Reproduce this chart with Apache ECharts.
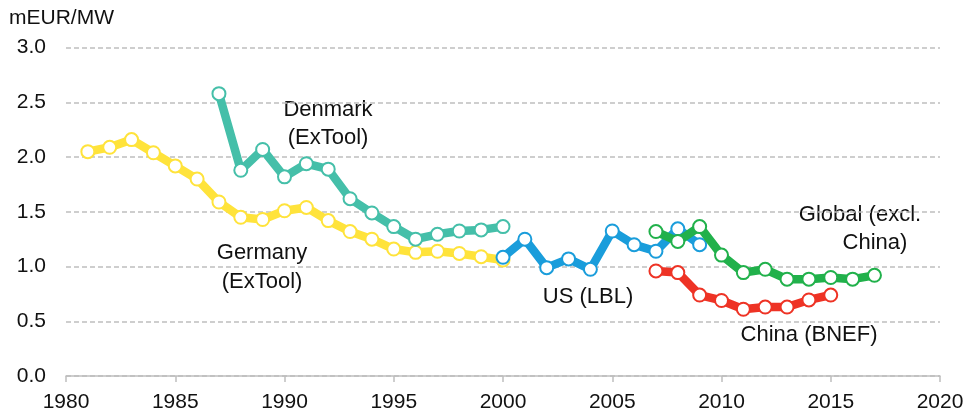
<!DOCTYPE html>
<html>
<head>
<meta charset="utf-8">
<script src="https://cdn.jsdelivr.net/npm/echarts@6/dist/echarts.min.js"></script>
<style>
html,body{margin:0;padding:0;background:#fff;}
#c{width:968px;height:419px;}
</style>
</head>
<body>
<div id="c"></div>
<script>
const germanyYears = [1981,1982,1983,1984,1985,1986,1987,1988,1989,1990,1991,1992,1993,1994,1995,1996,1997,1998,1999,2000];
const germanyVals  = [2.05,2.09,2.16,2.04,1.92,1.80,1.59,1.45,1.43,1.51,1.54,1.42,1.32,1.25,1.16,1.13,1.14,1.12,1.09,1.06];
const denmarkYears = [1987,1988,1989,1990,1991,1992,1993,1994,1995,1996,1997,1998,1999,2000];
const denmarkVals  = [2.58,1.88,2.07,1.82,1.94,1.89,1.62,1.49,1.365,1.25,1.295,1.325,1.335,1.365];
const usYears = [2000,2001,2002,2003,2004,2005,2006,2007,2008,2009];
const usVals  = [1.085,1.25,0.99,1.07,0.975,1.325,1.20,1.14,1.345,1.20];
const globalYears = [2007,2008,2009,2010,2011,2012,2013,2014,2015,2016,2017];
const globalVals  = [1.32,1.23,1.365,1.105,0.945,0.975,0.885,0.885,0.90,0.885,0.92];
const chinaYears = [2007,2008,2009,2010,2011,2012,2013,2014,2015];
const chinaVals  = [0.96,0.945,0.74,0.69,0.61,0.63,0.63,0.695,0.74];

const xTicks = [1980,1985,1990,1995,2000,2005,2010,2015,2020];
const yTicks = [0.0,0.5,1.0,1.5,2.0,2.5,3.0];
const unitLabel = 'mEUR/MW';

function pairs(xs, ys){ return xs.map((x,i)=>[x, ys[i]]); }

const FONT = 'Liberation Sans, Arial, sans-serif';
function mkSeries(name, xs, ys, color, z){
  return {
    name, type:'line', data: pairs(xs, ys), z,
    lineStyle:{color, width:8.5, join:'round', cap:'round'},
    itemStyle:{color:'#ffffff', borderColor:color, borderWidth:2},
    symbol:'circle', symbolSize:13, showAllSymbol:true,
    emphasis:{disabled:true}, animation:false
  };
}

const chart = echarts.init(document.getElementById('c'), null, {renderer:'canvas'});
const txt = (x,y,s)=>({type:'text', x, y, style:{text:s, font:'22px '+FONT, fill:'#111', align:'center', verticalAlign:'middle'}});
chart.setOption({
  animation:false,
  grid:{left:66, right:28, top:47.7, bottom:43},
  xAxis:{
    type:'value', min:1980, max:2020, interval:5,
    axisLine:{show:true, lineStyle:{color:'#BFBFBF', width:1.5}},
    axisTick:{show:true, inside:false, length:6, lineStyle:{color:'#BFBFBF', width:1.5}},
    axisLabel:{color:'#111', fontSize:21, fontFamily:FONT, margin:16, formatter:v=>String(v)},
    splitLine:{show:false}
  },
  yAxis:{
    type:'value', min:0, max:3, interval:0.5,
    axisLine:{show:false}, axisTick:{show:false},
    axisLabel:{color:'#111', fontSize:21, fontFamily:FONT, margin:20, formatter:v=>v.toFixed(1)},
    splitLine:{show:true, lineStyle:{color:'#BFBFBF', width:1.5, type:[5,3]}}
  },
  series:[
    mkSeries('Germany', germanyYears, germanyVals, '#FFE33B', 2),
    mkSeries('Denmark', denmarkYears, denmarkVals, '#45BFA9', 3),
    mkSeries('US', usYears, usVals, '#1A9DDB', 4),
    mkSeries('Global', globalYears, globalVals, '#21B14B', 5),
    mkSeries('China', chinaYears, chinaVals, '#EE3325', 6)
  ],
  graphic:[
    {type:'text', x:9, y:18, style:{text:unitLabel, font:'21px '+FONT, fill:'#111', align:'left', verticalAlign:'middle'}},
    txt(328,110,'Denmark'), txt(328,138,'(ExTool)'),
    txt(262,253,'Germany'), txt(262,282,'(ExTool)'),
    txt(588,297,'US (LBL)'),
    txt(860,215,'Global (excl.'), txt(875,243,'China)'),
    txt(809,335,'China (BNEF)')
  ]
});
</script>
</body>
</html>
